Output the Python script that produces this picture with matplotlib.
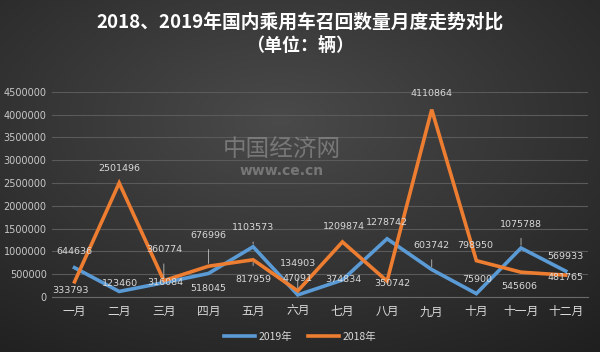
import numpy as np
import matplotlib.pyplot as plt

plt.rcParams['font.family'] = ['Noto Sans CJK SC', 'DejaVu Sans']

months = ['一月', '二月', '三月', '四月', '五月', '六月',
          '七月', '八月', '九月', '十月', '十一月', '十二月']
y2019 = [644636, 123460, 316084, 518045, 1103573, 47091,
         374834, 1278742, 603742, 75900, 1075788, 569933]
y2018 = [333793, 2501496, 360774, 676996, 817959, 134903,
         1209874, 350742, 4110864, 798950, 545606, 481765]
yticks = list(range(0, 4500001, 500000))

# label offsets in pixels (dx, dy), dy positive = up
off2019 = [(0, 16), (1, 8), (1, 0), (0, -15), (0, 19), (0, 16),
           (1, 0), (0, 16), (0, 24), (1, 14), (0, 24), (0, 15)]
off2018 = [(-4, -9), (0, 15), (0, 31), (0, 31), (0, -20), (0, 27),
           (1, 15), (5, -2), (0, 16), (-1, 15), (-2, -14), (0, -2)]

blue = '#5B9BD5'
orange = '#ED7D31'

fig = plt.figure(figsize=(6, 3.52), dpi=100)

# dark radial background
bg = fig.add_axes([0, 0, 1, 1], zorder=-10)
yy, xx = np.mgrid[0:352, 0:600]
r = np.sqrt(((xx - 280) / 600) ** 2 + ((yy - 120) / 352) ** 2)
shade = np.clip(0.29 - 0.2 * r, 0.1, 0.3)
bg.imshow(np.dstack([shade] * 3), aspect='auto', extent=[0, 1, 0, 1])
bg.axis('off')

ax = fig.add_axes([0.087, 0.156, 0.893, 0.583])
ax.set_facecolor('none')
x = np.arange(len(months))
ax.plot(x, y2019, color=blue, lw=2.6, label='2019年', solid_joinstyle='miter')
ax.plot(x, y2018, color=orange, lw=2.6, label='2018年', solid_joinstyle='miter')

for xi, v, (dx, dy) in zip(x, y2019, off2019):
    ap = dict(arrowstyle='-', color='#bfbfbf', lw=0.6, shrinkA=5, shrinkB=2) if abs(dy) > 18 else None
    ax.annotate(str(v), (xi, v), xytext=(dx, dy), textcoords='offset pixels',
                ha='center', va='center', fontsize=6.8, color='#d9d9d9',
                family='DejaVu Sans', arrowprops=ap)
for xi, v, (dx, dy) in zip(x, y2018, off2018):
    ap = dict(arrowstyle='-', color='#bfbfbf', lw=0.6, shrinkA=5, shrinkB=2) if abs(dy) > 18 else None
    ax.annotate(str(v), (xi, v), xytext=(dx, dy), textcoords='offset pixels',
                ha='center', va='center', fontsize=6.8, color='#d9d9d9',
                family='DejaVu Sans', arrowprops=ap)

ax.set_xlim(-0.5, 11.5)
ax.set_ylim(0, 4500000)
ax.set_yticks(yticks)
ax.set_yticklabels([str(t) for t in yticks], fontsize=7, color='#c8c8c8', family='DejaVu Sans')
ax.set_xticks(x)
ax.set_xticklabels(months, fontsize=8.5, color='#d9d9d9')
ax.tick_params(axis='x', length=0, pad=6)
ax.tick_params(axis='y', length=0, pad=4)
ax.grid(axis='y', color='#5a5a5a', lw=0.8)
for s in ['top', 'right', 'left']:
    ax.spines[s].set_visible(False)
ax.spines['bottom'].set_color('#6a6a6a')
ax.set_axisbelow(True)

leg = fig.legend(loc='center', bbox_to_anchor=(0.5, 0.043), ncol=2, frameon=False,
                 fontsize=7.5, handlelength=3, columnspacing=1.5, handletextpad=0.3)
for t in leg.get_texts():
    t.set_color('#d9d9d9')

fig.text(0.5, 0.937, '2018、2019年国内乘用车召回数量月度走势对比', ha='center', va='center',
         fontsize=13.5, fontweight='bold', color='white')
fig.text(0.5, 0.87, '（单位：辆）', ha='center', va='center',
         fontsize=13, fontweight='bold', color='white')

# watermark
fig.text(0.47, 0.575, '中国经济网', ha='center', va='center', fontsize=17,
         color='#9a9a9a', alpha=0.6)
fig.text(0.47, 0.515, 'www.ce.cn', ha='center', va='center', fontsize=10,
         fontweight='bold', color='#9a9a9a', alpha=0.6, family='DejaVu Sans')

fig.savefig('out.png', dpi=100)
